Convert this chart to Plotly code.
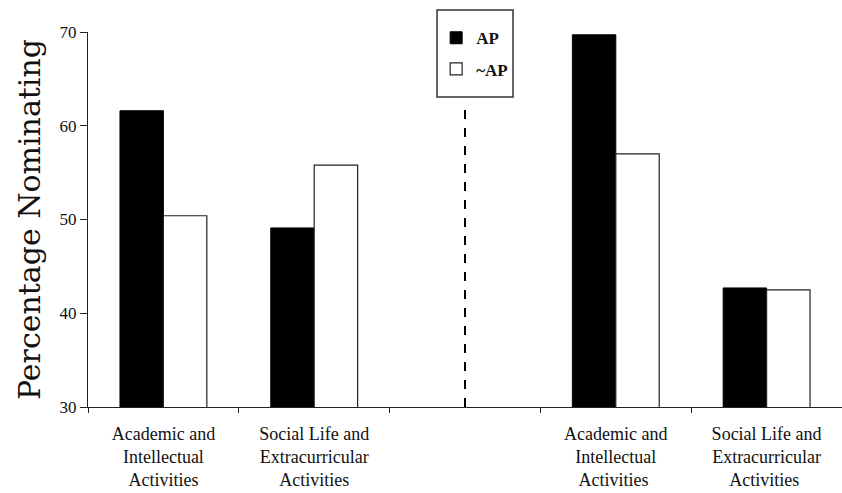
import plotly.graph_objects as go

categories = [
    "Academic and<br>Intellectual<br>Activities",
    "Social Life and<br>Extracurricular<br>Activities",
    " ",
    "Academic and<br>Intellectual<br>Activities ",
    "Social Life and<br>Extracurricular<br>Activities ",
]
ap_values = [61.6, 49.1, None, 69.7, 42.7]
not_ap_values = [50.4, 55.8, None, 57.0, 42.5]
series_names = ["AP", "~AP"]
y_ticks = [30, 40, 50, 60, 70]
separator_category = " "
separator_top = 62

serif = "Liberation Serif"
title_font = "DejaVu Serif"

fig = go.Figure()
fig.add_trace(go.Bar(
    x=categories, y=ap_values, name=series_names[0],
    marker=dict(color="black", line=dict(color="black", width=1)),
    legendgroup="a",
))
fig.add_trace(go.Bar(
    x=categories, y=not_ap_values, name=series_names[1],
    marker=dict(color="white", line=dict(color="#222", width=1.2)),
    legendgroup="b",
))

# dashed separator between the two panels
fig.add_shape(type="line", xref="x", yref="y",
              x0=separator_category, x1=separator_category,
              y0=30, y1=separator_top,
              line=dict(color="black", width=2, dash="dash"))

# legend frame
fig.add_shape(type="rect", xref="paper", yref="paper",
              x0=0.4629, x1=0.5637, y0=0.8267, y1=1.0587,
              line=dict(color="#333", width=1.5), fillcolor="rgba(0,0,0,0)",
              layer="below")

fig.update_layout(
    width=842, height=493,
    margin=dict(l=88, r=0, t=32, b=86, autoexpand=False),
    paper_bgcolor="white", plot_bgcolor="white",
    barmode="group", bargap=0.424, bargroupgap=0,
    font=dict(family=serif, color="#111", size=14),
    showlegend=True,
    legend=dict(
        xref="container", yref="container",
        x=0.518, y=0.959, xanchor="left", yanchor="top",
        borderwidth=0, bgcolor="rgba(0,0,0,0)",
        font=dict(family=serif, size=17, color="#111", weight="bold"),
        tracegroupgap=6, traceorder="grouped",
    ),
    xaxis=dict(
        type="category", categoryorder="array", categoryarray=categories,
        tickson="boundaries", ticks="outside", ticklen=5, tickcolor="#222",
        showline=True, linecolor="#222", linewidth=1,
        showgrid=False, zeroline=False, automargin=False,
        tickfont=dict(family=serif, size=18, color="#111"),
        ticklabelstandoff=10,
        range=[-0.5, 4.5],
    ),
    yaxis=dict(
        range=[30, 70], tickvals=y_ticks,
        ticks="outside", ticklen=7, tickcolor="#222",
        showline=True, linecolor="#222", linewidth=1,
        showgrid=False, zeroline=False, automargin=False,
        tickfont=dict(family=serif, size=17, color="#111"),
        title=dict(text="Percentage Nominating",
                   font=dict(family=title_font, size=30, color="#111"),
                   standoff=10),
    ),
)

fig.write_html("out.html", config={"displayModeBar": False},
               post_script="document.body.style.margin='0';")
